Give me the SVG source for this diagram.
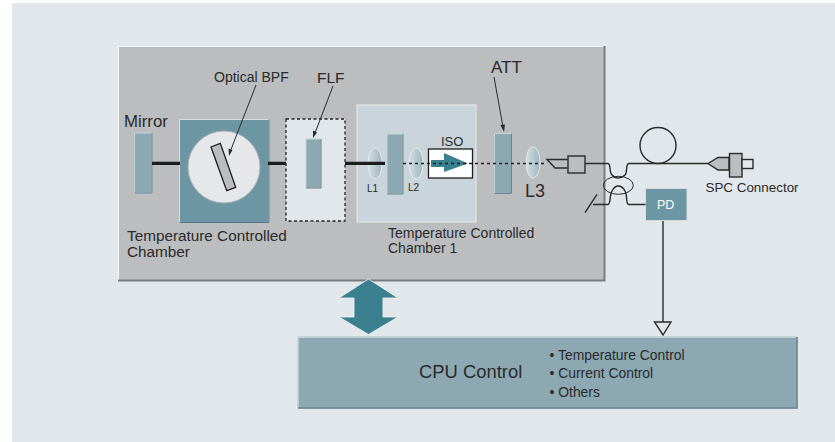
<svg xmlns="http://www.w3.org/2000/svg" width="835" height="442" viewBox="0 0 835 442">
<defs>
<linearGradient id="lens" x1="0" y1="0" x2="1" y2="0"><stop offset="0" stop-color="#d3dfe3"/><stop offset="1" stop-color="#9db5bf"/></linearGradient>
</defs>
<style>
text{font-family:"Liberation Sans",Arial,sans-serif;fill:#2a2a2a}
.f{fill:#8ca9b3;stroke:#c6d3d8;stroke-width:1}
.b{fill:none;stroke:#6a8591;stroke-width:1}
.w{fill:none;stroke:#2a2a2a;stroke-width:1.400}
.l{fill:none;stroke:#2a2a2a;stroke-width:1}
.h{fill:#2a2a2a}
.e{fill:url(#lens);stroke:#e3e9eb}
</style>
<rect width="835" height="442" fill="#fff"/>
<rect x="12" y="3" width="823" height="439" fill="#e1e7ea"/>
<g id="main-box"><rect x="118.500" y="46.500" width="486" height="234" fill="#bcbdbf" stroke="#f2f4f5" stroke-width="1"/><path d="M604.500 46V280.500H118" fill="none" stroke="#7b7c7f" stroke-width="2"/></g>
<g id="mirror"><rect x="134.500" y="133" width="17.500" height="60" class="f"/><path d="M152 133V193H134.500" class="b"/><text x="124" y="127" font-size="16.800">Mirror</text></g>
<g id="optical-bpf">
<rect x="179.500" y="119.500" width="89.500" height="103" fill="#6d96a5" stroke="#d3dde0"/>
<path d="M269 119.500V222.500H179.500" fill="none" stroke="#55788a"/>
<circle cx="224" cy="167" r="36" fill="#e6e7e8" stroke="#a8b3b7"/>
<path d="M211 147L220.300 143.300L235.700 187.300L226.700 190.700Z" fill="#bcbdbf" stroke="#1c1c1c" stroke-width="1.300"/>
<text x="214" y="82" font-size="14">Optical BPF</text>
<text x="127" y="241" font-size="15.300">Temperature Controlled</text><text x="127" y="257" font-size="15.300">Chamber</text>
</g>
<g id="flf"><rect x="286" y="119" width="59" height="102" fill="#e1e7ea" stroke="#222" stroke-width="1.300" stroke-dasharray="3 2.500"/><rect x="306" y="139" width="15" height="49" class="f"/><path d="M321 139V188H306" class="b"/><text x="317" y="83" font-size="15.500">FLF</text></g>
<g id="chamber-1">
<rect x="357" y="105" width="119" height="117" fill="#c9d5da" stroke="#e7ecee"/>
<ellipse cx="375" cy="163.500" rx="7" ry="15.500" class="e"/>
<rect x="387" y="134" width="16" height="60" class="f"/><path d="M403 134V194H387" class="b"/>
<ellipse cx="416" cy="163.500" rx="7" ry="15.500" class="e"/>
<rect x="428.500" y="149" width="44" height="29" fill="#fff" stroke="#1c1c1c" stroke-width="1.300"/>
<path d="M431 160H444V153L468 163.500L444 172V167H431Z" fill="#3a808f"/>
<text x="441" y="146" font-size="13">ISO</text>
<text x="367" y="192" font-size="10">L1</text><text x="408" y="191" font-size="10">L2</text>
<text x="388" y="238" font-size="14">Temperature Controlled</text><text x="388" y="253" font-size="14">Chamber 1</text>
</g>
<g id="att"><rect x="494.500" y="133.500" width="17" height="60" class="f"/><path d="M511.500 133.500V193.500H494.500" class="b"/><text x="491" y="73" font-size="17">ATT</text></g>
<g id="l3"><ellipse cx="533" cy="162.500" rx="7" ry="15.500" class="e"/><text x="525" y="197" font-size="18">L3</text></g>
<g id="fiber-end"><path d="M567.500 159.500H547L555 168H567.500" class="w"/><rect x="568" y="156" width="17" height="17" fill="#bcbdbf" stroke="#2a2a2a" stroke-width="1.400"/></g>
<g id="coil"><circle cx="658" cy="145.500" r="18" fill="none" stroke="#2a2a2a" stroke-width="1.400"/></g>
<g id="spc-connector">
<path d="M708 163.500L718 157.500H729V170H718Z" fill="#bcbdbf" stroke="#2a2a2a" stroke-width="1.400"/>
<rect x="729.500" y="153.500" width="12.500" height="23.500" fill="#bcbdbf" stroke="#2a2a2a" stroke-width="1.400"/>
<rect x="742" y="159.500" width="11" height="9" fill="#e1e7ea" stroke="#2a2a2a" stroke-width="1.400"/>
<text x="705.500" y="192" font-size="13.400">SPC Connector</text>
</g>
<g id="pd"><rect x="645.500" y="188.500" width="41.500" height="32" fill="#6d96a5" stroke="#d3dde0"/><text x="657" y="209" font-size="12.500" style="fill:#fff">PD</text></g>
<g id="double-arrow"><path d="M368.500 279L398 298H383V317H398L368.500 334.500L339 317H354V298H339Z" fill="#3a808f" stroke="#f4f6f7" stroke-width="0.800"/></g>
<g id="cpu-control">
<rect x="298.500" y="337.500" width="498" height="70" fill="#8ca9b3"/>
<path d="M298 337H797M298 337V408" stroke="#bdd0d6" fill="none" stroke-width="1.500"/><path d="M797 337V408H298" stroke="#5f7a84" fill="none" stroke-width="1.500"/>
<text x="419" y="378" font-size="18.400">CPU Control</text>
<text x="549.500" y="360" font-size="13.900">• Temperature Control</text>
<text x="549.500" y="378" font-size="13.900">• Current Control</text>
<text x="549.500" y="396.500" font-size="13.900">• Others</text>
</g>
<g id="connectors">
<path d="M152 163.300H180M268 163.300H286M345 163.300H385" fill="none" stroke="#1c1c1c" stroke-width="3.200"/>
<path d="M403 163.500H547" fill="none" stroke="#222" stroke-width="1.300" stroke-dasharray="3 3"/>
<path d="M585 163.500H608C611 164 609 172 612 175C614 177.500 616 178 618 178C621 178 623 177 625 175C628 172 625 164 629 163.500H708" class="w"/>
<path d="M593 204.500H608C611 204 609 196 612 191C614 187.500 616 186 618 186C621 186 623 187 625 191C628 196 625 204 629 204.500H645.500" class="w"/>
<ellipse cx="618.300" cy="185.300" rx="15" ry="9" class="l"/>
<path d="M585 212.700L597 194.300" class="w"/>
<path d="M663 221V322" class="w"/>
<path d="M654.500 322H671L663 335Z" fill="#e1e7ea" stroke="#2a2a2a" stroke-width="1.400"/>
<path d="M256 85L230 152M333 86L315 133M494 77L503 127" class="l"/>
<path class="h" d="M229 156L228.500 148.500L232.500 150ZM313 138L313 130.500L317 132.500ZM504 132L500.500 125L505 124.500Z"/>
</g>
</svg>
